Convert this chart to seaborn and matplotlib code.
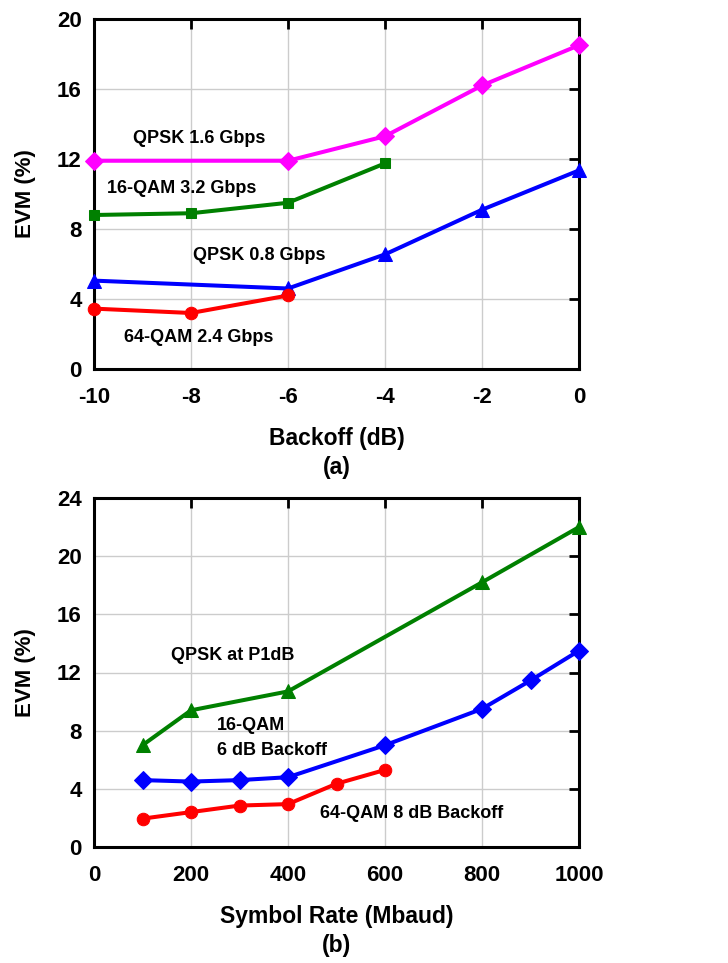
import matplotlib
matplotlib.use("Agg")
import matplotlib.pyplot as plt
import seaborn as sns
import pandas as pd

# ---- data (a) ----
backoff = [-10, -8, -6, -4, -2, 0]
qpsk16_x = [-10, -6, -4, -2, 0]
qpsk16_y = [11.9, 11.9, 13.3, 16.2, 18.5]
qam16_x = [-10, -8, -6, -4]
qam16_y = [8.8, 8.9, 9.5, 11.75]
qpsk08_x = [-10, -6, -4, -2, 0]
qpsk08_y = [5.05, 4.6, 6.55, 9.1, 11.35]
qam64_x = [-10, -8, -6]
qam64_y = [3.45, 3.2, 4.2]

# ---- data (b) ----
rate_ticks = [0, 200, 400, 600, 800, 1000]
p1db_x = [100, 200, 400, 800, 1000]
p1db_y = [7.0, 9.4, 10.7, 18.2, 22.0]
qam16b_x = [100, 200, 300, 400, 600, 800, 900, 1000]
qam16b_y = [4.6, 4.5, 4.6, 4.8, 7.0, 9.5, 11.45, 13.5]
qam64b_x = [100, 200, 300, 400, 500, 600]
qam64b_y = [1.95, 2.4, 2.85, 2.95, 4.35, 5.3]

sns.set_theme(style="white")
plt.rcParams['font.family'] = ['Liberation Sans', 'DejaVu Sans']
plt.rcParams['font.weight'] = 'bold'
plt.rcParams['axes.unicode_minus'] = False
plt.rcParams['text.color'] = 'black'
plt.rcParams['axes.labelcolor'] = 'black'
plt.rcParams['xtick.color'] = 'black'
plt.rcParams['ytick.color'] = 'black'

W, H = 728, 963
fig = plt.figure(figsize=(W / 100, H / 100), dpi=100)
ax1 = fig.add_axes([94 / W, 1 - 369 / H, (579 - 94) / W, (369 - 19) / H])
ax2 = fig.add_axes([94 / W, 1 - 847 / H, (579 - 94) / W, (847 - 498) / H])

lw = 2.9

def draw(ax, x, y, color, marker, size):
    df = pd.DataFrame({"x": x, "y": y})
    sns.lineplot(data=df, x="x", y="y", ax=ax, color=color, marker=marker,
                 markersize=size, linewidth=lw, markeredgecolor=color,
                 zorder=3, clip_on=False)

draw(ax1, qpsk16_x, qpsk16_y, "#FF00FF", "D", 9.5)
draw(ax1, qam16_x, qam16_y, "#008000", "s", 7.5)
draw(ax1, qpsk08_x, qpsk08_y, "#0000FF", "^", 9.5)
draw(ax1, qam64_x, qam64_y, "#FF0000", "o", 9)

draw(ax2, p1db_x, p1db_y, "#008000", "^", 9.5)
draw(ax2, qam16b_x, qam16b_y, "#0000FF", "D", 9.5)
draw(ax2, qam64b_x, qam64b_y, "#FF0000", "o", 9)

ax1.set_xlim(-10, 0)
ax1.set_ylim(0, 20)
ax1.set_xticks(backoff)
ax1.set_yticks([0, 4, 8, 12, 16, 20])

ax2.set_xlim(0, 1000)
ax2.set_ylim(0, 24)
ax2.set_xticks(rate_ticks)
ax2.set_yticks([0, 4, 8, 12, 16, 20, 24])

for ax in (ax1, ax2):
    ax.grid(True, color="#cccccc", linewidth=1.0, zorder=0)
    ax.set_axisbelow(True)
    for s in ax.spines.values():
        s.set_color("black")
        s.set_linewidth(2.2)
    ax.tick_params(axis="both", direction="in", length=7, width=2, top=True, right=True,
                   labelsize=16, colors="black")
    ax.tick_params(axis="x", pad=13)
    ax.tick_params(axis="y", pad=9)
    for lab in ax.get_xticklabels() + ax.get_yticklabels():
        lab.set_fontweight("bold")
    ax.set_ylabel("EVM (%)", fontsize=16, fontweight="bold")
    ax.yaxis.set_label_coords(-58 / 485, 0.5)

def place_xlabel(ax, text, y_base_px, ax_bottom_px, ax_h_px):
    ax.set_xlabel(text, fontsize=16.5, fontweight="bold", linespacing=1.35)
    lab = ax.xaxis.label
    lab.set_va("baseline")
    lab.set_ha("center")
    ax.xaxis.set_label_coords(0.5, -(y_base_px - ax_bottom_px) / ax_h_px)

place_xlabel(ax1, "Backoff (dB)\n(a)", 474, 369, 350)
place_xlabel(ax2, "Symbol Rate (Mbaud)\n(b)", 952, 847, 349)

tfs = 13
ax1.text(-7.84, 13.15, "QPSK 1.6 Gbps", fontsize=tfs, fontweight="bold", ha="center", va="center")
ax1.text(-8.19, 10.3, "16-QAM 3.2 Gbps", fontsize=tfs, fontweight="bold", ha="center", va="center")
ax1.text(-6.6, 6.5, "QPSK 0.8 Gbps", fontsize=tfs, fontweight="bold", ha="center", va="center")
ax1.text(-7.85, 1.8, "64-QAM 2.4 Gbps", fontsize=tfs, fontweight="bold", ha="center", va="center")

ax2.text(285, 13.2, "QPSK at P1dB", fontsize=tfs, fontweight="bold", ha="center", va="center")
ax2.text(254, 7.5, "16-QAM\n6 dB Backoff", fontsize=tfs, fontweight="bold", ha="left", va="center",
         linespacing=1.65)
ax2.text(655, 2.3, "64-QAM 8 dB Backoff", fontsize=tfs, fontweight="bold", ha="center", va="center")

fig.savefig("out.png", dpi=100, facecolor="white")
